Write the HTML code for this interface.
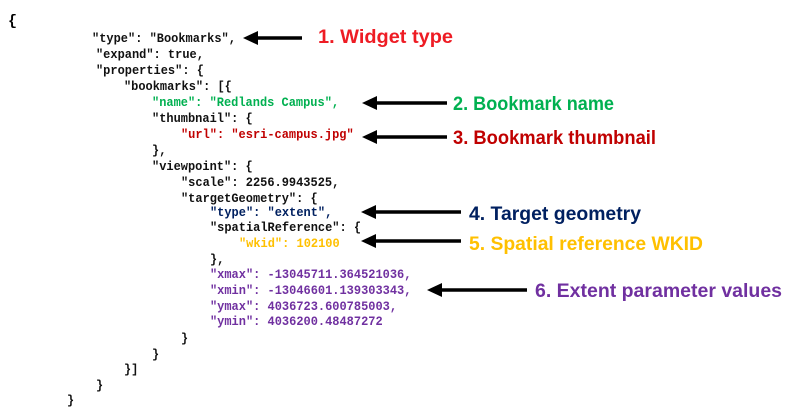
<!DOCTYPE html>
<html><head><meta charset="utf-8"><style>
html,body{margin:0;padding:0;background:#fff;width:792px;height:415px;overflow:hidden}
svg{display:block}
.c{font-family:"Liberation Mono",monospace;font-size:13px;font-weight:bold;white-space:pre}
.l{font-family:"Liberation Sans",sans-serif;font-size:19.5px;font-weight:bold}
</style></head><body>
<svg width="792" height="415" viewBox="0 0 792 415" xmlns="http://www.w3.org/2000/svg">
<text x="8" y="25" style="font-family:'Liberation Mono',monospace;font-size:15px;font-weight:bold">{</text>
<g class="c" fill="#111" transform="scale(0.923,1)">
<text x="99.7" y="42">"type": "Bookmarks",</text>
<text x="104" y="58">"expand": true,</text>
<text x="104" y="74">"properties": {</text>
<text x="134.3" y="90">"bookmarks": [{</text>
<text x="164.7" y="106" fill="#00b050">"name": "Redlands Campus",</text>
<text x="164.7" y="122">"thumbnail": {</text>
<text x="196.1" y="138" fill="#c00000">"url": "esri-campus.jpg"</text>
<text x="164.7" y="154">},</text>
<text x="164.7" y="170">"viewpoint": {</text>
<text x="196.1" y="186">"scale": 2256.9943525,</text>
<text x="196.1" y="202">"targetGeometry": {</text>
<text x="227.5" y="216" fill="#002060">"type": "extent",</text>
<text x="227.5" y="231">"spatialReference": {</text>
<text x="258.9" y="247" fill="#ffc000">"wkid": 102100</text>
<text x="227.5" y="263">},</text>
<g fill="#7030a0">
<text x="227.5" y="278">"xmax": -13045711.364521036,</text>
<text x="227.5" y="294">"xmin": -13046601.139303343,</text>
<text x="227.5" y="310">"ymax": 4036723.600785003,</text>
<text x="227.5" y="325">"ymin": 4036200.48487272</text>
</g>
<text x="196.1" y="342">}</text>
<text x="164.7" y="358">}</text>
<text x="134.3" y="373">}]</text>
<text x="104" y="389">}</text>
<text x="72.6" y="404">}</text>
</g>
<g stroke="#000" stroke-width="3.5">
<line x1="302" y1="38" x2="256" y2="38"/>
<line x1="447" y1="103" x2="375" y2="103"/>
<line x1="447" y1="137" x2="375" y2="137"/>
<line x1="461" y1="212" x2="374" y2="212"/>
<line x1="461" y1="241" x2="374" y2="241"/>
<line x1="527" y1="290" x2="440" y2="290"/>
</g>
<g fill="#000">
<path d="M243,38 L258,31 L258,45 Z"/>
<path d="M362,103 L377,96 L377,110 Z"/>
<path d="M362,137 L377,130 L377,144 Z"/>
<path d="M361,212 L376,205 L376,219 Z"/>
<path d="M361,241 L376,234 L376,248 Z"/>
<path d="M427,290 L442,283 L442,297 Z"/>
</g>
<g class="l">
<text x="318" y="43" fill="#ee1c24" textLength="135" lengthAdjust="spacingAndGlyphs">1. Widget type</text>
<text x="453" y="110" fill="#00b050" textLength="161" lengthAdjust="spacingAndGlyphs">2. Bookmark name</text>
<text x="453" y="144" fill="#c00000" textLength="203" lengthAdjust="spacingAndGlyphs">3. Bookmark thumbnail</text>
<text x="469" y="220" fill="#002060" textLength="172" lengthAdjust="spacingAndGlyphs">4. Target geometry</text>
<text x="469" y="250" fill="#ffc000" textLength="234" lengthAdjust="spacingAndGlyphs">5. Spatial reference WKID</text>
<text x="535" y="297" fill="#7030a0" textLength="247" lengthAdjust="spacingAndGlyphs">6. Extent parameter values</text>
</g>
</svg>
</body></html>
